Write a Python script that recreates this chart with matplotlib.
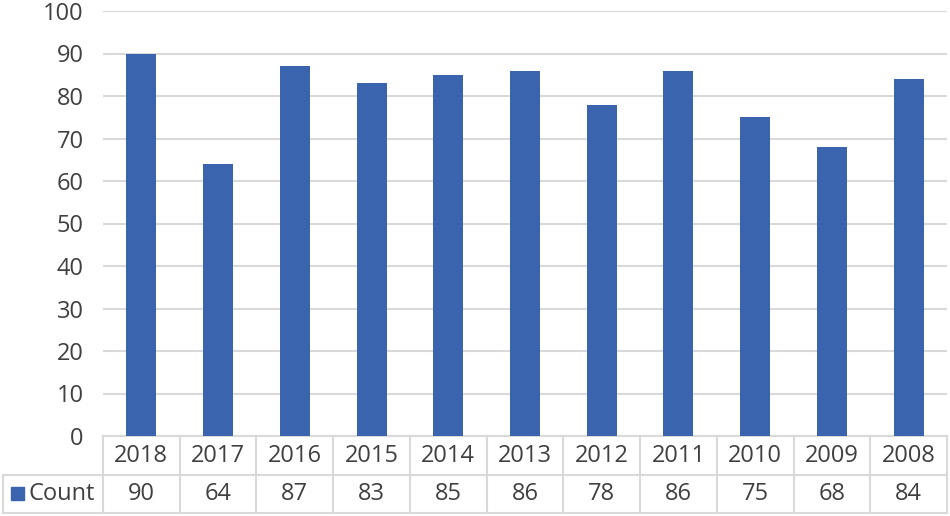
import matplotlib
matplotlib.use("Agg")
from matplotlib import pyplot as plt
from matplotlib.patches import Rectangle
import matplotlib.transforms as mtransforms

years = ["2018", "2017", "2016", "2015", "2014", "2013", "2012", "2011", "2010", "2009", "2008"]
counts = [90, 64, 87, 83, 85, 86, 78, 86, 75, 68, 84]
series_name = "Count"

bar_color = "#3a64ae"
grid_color = "#d9d9d9"
text_color = "#404040"
fs = 17

plt.rcParams['font.family'] = ['Open Sans', 'DejaVu Sans']

W, H = 950, 516
fig = plt.figure(figsize=(W / 100, H / 100), dpi=100)
left, right, top, bottom = 103, 947, 11, 436
ax = fig.add_axes([left / W, 1 - bottom / H, (right - left) / W, (bottom - top) / H])

x = list(range(len(years)))
ax.bar(x, counts, width=0.39, color=bar_color, zorder=3)
ax.set_xlim(-0.5, len(years) - 0.5)
ax.set_ylim(0, 100)
ax.set_yticks(range(0, 101, 10))
ax.yaxis.grid(True, color=grid_color, linewidth=1.5, zorder=0)
ax.tick_params(axis='y', length=0, pad=14, labelsize=fs, labelcolor=text_color)
ax.set_xticks([])
for s in ax.spines.values():
    s.set_visible(False)

# data table below the plot
ax_h = bottom - top
r1 = -39 / ax_h
r2 = -77 / ax_h
leg_left = (3 - left) / (right - left) * len(years) - 0.5
trans = mtransforms.blended_transform_factory(ax.transData, ax.transAxes)
lw = 1.5

def hline(x0, x1, y):
    ax.plot([x0, x1], [y, y], color=grid_color, lw=lw, transform=trans, clip_on=False, zorder=2)

def vline(xv, y0, y1):
    ax.plot([xv, xv], [y0, y1], color=grid_color, lw=lw, transform=trans, clip_on=False, zorder=2)

xmax = len(years) - 0.5
hline(-0.5, xmax, 0)
hline(leg_left, xmax, r1)
hline(leg_left, xmax, r2)
vline(leg_left, r1, r2)
for i in range(len(years) + 1):
    vline(i - 0.5, 0, r2)

for i, (yr, c) in enumerate(zip(years, counts)):
    ax.text(i, r1 / 2, yr, ha='center', va='center', fontsize=fs, color=text_color,
            transform=trans)
    ax.text(i, (r1 + r2) / 2, str(c), ha='center', va='center', fontsize=fs, color=text_color,
            transform=trans)

# legend key in the table
fig.patches.append(Rectangle((11 / W, 1 - 500 / H), 13 / W, 13 / H, color=bar_color,
                             transform=fig.transFigure))
fig.text(28 / W, 1 - 494 / H, series_name, ha='left', va='center', fontsize=fs, color=text_color)

fig.savefig("out.png", dpi=100)
